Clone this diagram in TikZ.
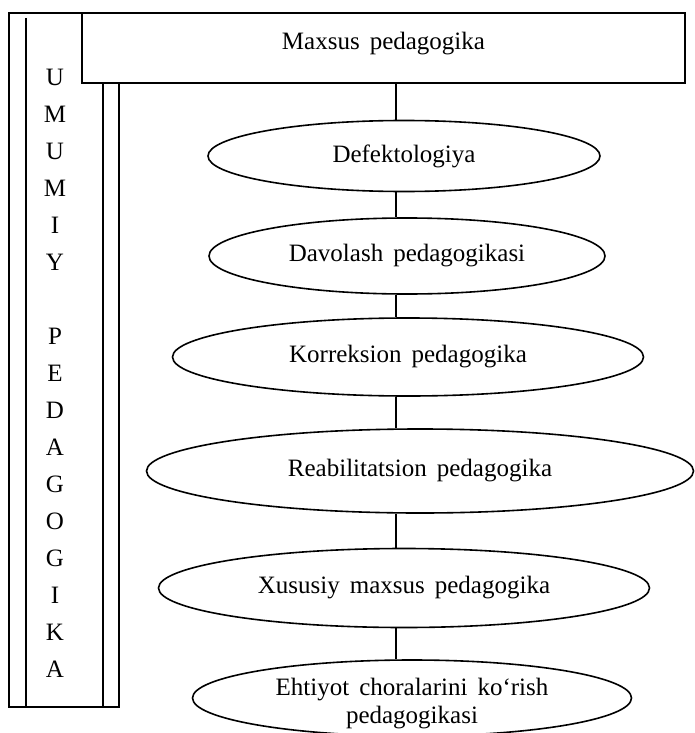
\documentclass[tikz,border=0pt]{standalone}
\usepackage{fontspec}
\setmainfont{Liberation Serif}[WordSpace=1.6]
\usetikzlibrary{shapes.geometric,positioning}

\begin{document}
\begin{tikzpicture}[
  x=1pt,y=-1pt,line width=1.6pt,
  font=\fontsize{25}{28}\selectfont,
  frame/.style={draw,fill=white,inner sep=0pt},
  oval/.style={ellipse,draw,fill=white,inner sep=0pt,align=center}]
\useasboundingbox (0,0) rectangle (695,733);
% left column
\draw (9,13) rectangle (119,707);
\draw (26,18) -- (26,707);
\draw (103,83) -- (103,707);
\node[align=center,inner sep=0pt,font=\fontsize{25}{37}\selectfont] (umumiy) at (55,373)
  {U\\M\\U\\M\\I\\Y\\[37pt]P\\E\\D\\A\\G\\O\\G\\I\\K\\A};
% top box
\node[frame,minimum width=603pt,minimum height=70pt,text depth=15pt] (maxsus) at (383.5,48) {Maxsus pedagogika};
% ovals
\node[oval,minimum width=392pt,minimum height=71pt] (defekt) at (404,156) {Defektologiya};
\node[oval,minimum width=396pt,minimum height=76pt] (davolash) at (407,256) {Davolash pedagogikasi};
\node[oval,minimum width=471pt,minimum height=78pt] (korreksion) at (408,357) {Korreksion pedagogika};
\node[oval,minimum width=547pt,minimum height=84pt] (reabil) at (420,471) {Reabilitatsion pedagogika};
\node[oval,minimum width=491pt,minimum height=79pt] (xususiy) at (404,588) {Xususiy maxsus pedagogika};
\node[oval,minimum width=439pt,minimum height=76pt] (ehtiyot) at (412,698) {};
\node[align=center,inner sep=0pt] (ehtiyottxt) at ([yshift=-6pt]ehtiyot.center) {Ehtiyot choralarini ko‘rish\\pedagogikasi};
% connectors
\coordinate (spine) at (396,0);
\draw (maxsus.south -| spine) -- (defekt.north -| spine);
\draw (defekt.south -| spine) -- (davolash.north -| spine);
\draw (davolash.south -| spine) -- (korreksion.north -| spine);
\draw (korreksion.south -| spine) -- (reabil.north -| spine);
\draw (reabil.south -| spine) -- (xususiy.north -| spine);
\draw (xususiy.south -| spine) -- (ehtiyot.north -| spine);
\end{tikzpicture}
\end{document}
